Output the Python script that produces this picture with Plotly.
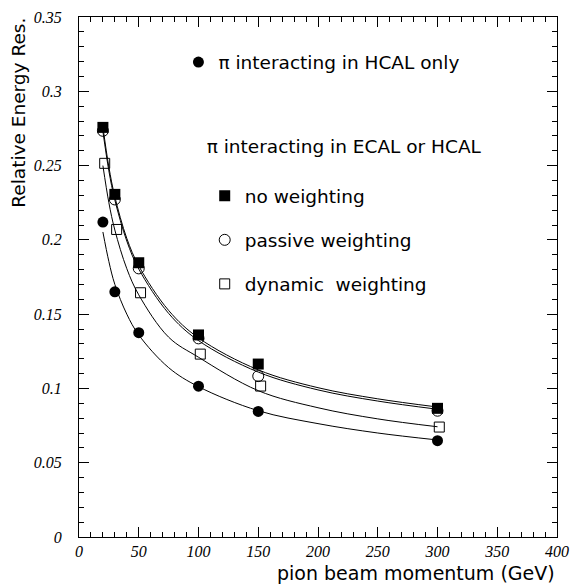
import plotly.graph_objects as go

# ---- data ----
momentum = [20, 30, 50, 100, 150, 300]
momentum_dyn = [21.5, 31.5, 51.5, 101.5, 152, 301.5]
hcal_only = [0.212, 0.165, 0.1375, 0.1015, 0.0845, 0.0648]
no_weighting = [0.2757, 0.2306, 0.1846, 0.136, 0.1164, 0.0866]
passive_weighting = [0.2734, 0.2272, 0.1808, 0.1337, 0.1083, 0.085]
dynamic_weighting = [0.2515, 0.207, 0.1644, 0.1231, 0.1016, 0.074]

# fitted curves
fit_x = [20, 25, 30, 40, 50, 75, 100, 150, 200, 250, 300]
hcal_fit = [0.2053, 0.1854, 0.1700, 0.1500, 0.1360, 0.1140, 0.1012, 0.0850, 0.0763, 0.0700, 0.0653]
no_weighting_fit = [0.276, 0.249, 0.229, 0.201, 0.1825, 0.1525, 0.134, 0.1125, 0.1005, 0.093, 0.0875]
passive_fit = [0.273, 0.2464, 0.2268, 0.1992, 0.1804, 0.1505, 0.1322, 0.111, 0.099, 0.0915, 0.086]
dynamic_fit = [0.250, 0.225, 0.2066, 0.1806, 0.163, 0.1345, 0.121, 0.0985, 0.087, 0.0795, 0.0742]

x_ticks = [0, 50, 100, 150, 200, 250, 300, 350, 400]
y_ticks = [0, 0.05, 0.1, 0.15, 0.2, 0.25, 0.3, 0.35]
y_ticktext = ["0", "0.05", "0.1", "0.15", "0.2", "0.25", "0.3", "0.35"]

FONT = "DejaVu Sans"
line_style = dict(color="black", width=1, shape="spline")

fig = go.Figure()
for ys in [hcal_fit, no_weighting_fit, passive_fit, dynamic_fit]:
    fig.add_trace(go.Scatter(x=fit_x, y=ys, mode="lines", line=line_style,
                             showlegend=False, hoverinfo="skip"))

fig.add_trace(go.Scatter(x=momentum, y=hcal_only, mode="markers",
                         name="π interacting in HCAL only", legend="legend",
                         marker=dict(symbol="circle", size=11, color="black")))
fig.add_trace(go.Scatter(x=momentum, y=no_weighting, mode="markers",
                         name="no weighting", legend="legend2", legendgroup="a",
                         marker=dict(symbol="square", size=11, color="black")))
fig.add_trace(go.Scatter(x=momentum, y=passive_weighting, mode="markers",
                         name="passive weighting", legend="legend2", legendgroup="b",
                         marker=dict(symbol="circle-open", size=11, color="black",
                                     line=dict(width=1, color="black"))))
fig.add_trace(go.Scatter(x=momentum_dyn, y=dynamic_weighting, mode="markers",
                         name="dynamic  weighting", legend="legend2", legendgroup="c",
                         marker=dict(symbol="square-open", size=10, color="black",
                                     line=dict(width=1, color="black"))))

axis_common = dict(showline=True, linecolor="black", linewidth=1, mirror="allticks",
                   ticks="inside", ticklen=10, tickcolor="black", tickwidth=1,
                   showgrid=False, zeroline=False, ticklabeloverflow="allow",
                   tickfont=dict(family="Liberation Serif", style="italic", size=16, color="black"))

fig.update_xaxes(range=[0, 400], tickvals=x_ticks,
                 minor=dict(dtick=10, ticks="inside", ticklen=5, tickcolor="black", showgrid=False),
                 **axis_common)
fig.update_yaxes(range=[0, 0.35], tickvals=y_ticks, ticktext=y_ticktext,
                 ticklabelstandoff=13,
                 minor=dict(dtick=0.01, ticks="inside", ticklen=5, tickcolor="black", showgrid=False),
                 **axis_common)

leg_font = dict(family=FONT, size=18.5, color="black")
fig.update_layout(
    width=571, height=584,
    margin=dict(l=79, r=2, t=17, b=47),
    paper_bgcolor="white", plot_bgcolor="white",
    legend=dict(x=0.208, y=0.949, xanchor="left", yanchor="top", font=leg_font,
                bgcolor="rgba(0,0,0,0)"),
    legend2=dict(x=0.263, y=0.7843, xanchor="left", yanchor="top", font=leg_font,
                 bgcolor="rgba(0,0,0,0)", traceorder="grouped", tracegroupgap=17,
                 title=dict(text="π interacting in ECAL or HCAL<br> ", font=leg_font)),
    annotations=[
        dict(text="Relative Energy Res.", textangle=-90, xref="paper", yref="paper",
             x=-0.1265, y=0.815, xanchor="center", yanchor="middle", showarrow=False,
             font=dict(family=FONT, size=18.5, color="black")),
        dict(text="pion beam momentum (GeV)", xref="paper", yref="paper",
             x=1.0, y=-0.069, xanchor="right", yanchor="middle", showarrow=False,
             font=dict(family=FONT, size=19, color="black")),
    ],
)

fig.write_html(
    "out.html",
    config={"displayModeBar": False},
    post_script=(
        "document.body.style.margin='0';document.body.style.overflow='hidden';"
        "document.querySelectorAll('svg.main-svg').forEach(function(s){s.style.overflow='visible';});"
    ),
)
